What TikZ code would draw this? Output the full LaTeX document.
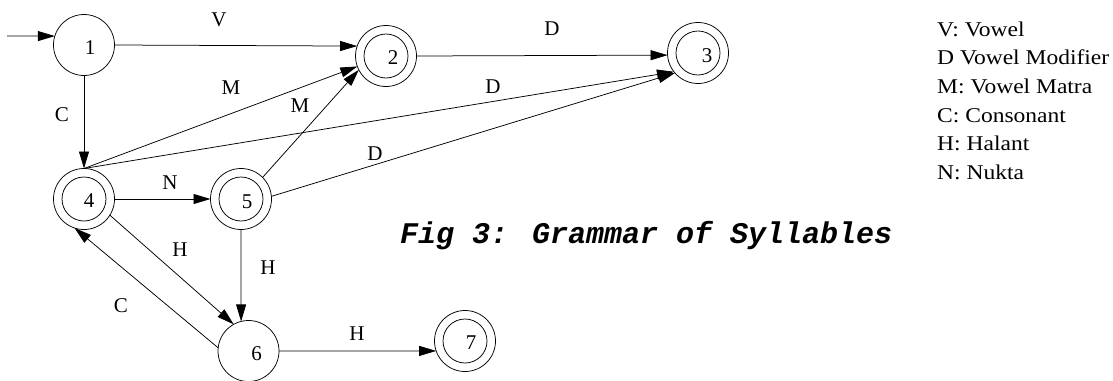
\documentclass[tikz,border=0pt]{standalone}
\usepackage{graphicx}
\usepackage{fontspec}
\setmainfont{Liberation Serif}
\newfontfamily\titlefont{Liberation Mono}
\usetikzlibrary{arrows.meta,calc}
\begin{document}
\begin{tikzpicture}[x=1pt,y=-1pt,
  st/.style={circle,draw,line width=0.75pt,minimum size=61pt,inner sep=0pt,outer sep=0pt},
  num/.style={inner sep=0pt,font=\fontsize{21}{25}\selectfont},
  lbl/.style={inner sep=0pt,font=\fontsize{21}{25}\selectfont},
  leg/.style={inner sep=0pt,anchor=base west,font=\fontsize{21}{25}\selectfont},
  edg/.style={line width=0.75pt,-{Triangle[length=17pt,width=10pt]}}]
\useasboundingbox (0,0) rectangle (1113,380);
% states
\node[st] (n1) at (84,45) {};
\node[st] (n2) at (386,56) {};
\node[st] (n3) at (698,53) {};
\node[st] (n4) at (84,199) {};
\node[st] (n5) at (241,199) {};
\node[st] (n6) at (248.5,351) {};
\node[st] (n7) at (465,341) {};
\foreach \n in {n2,n3,n4,n5,n7}{\draw[line width=0.75pt] (\n.center) circle[radius=22pt];}
\node[num] (t1) at ($(n1)+(6,3)$) {1};
\node[num] (t2) at ($(n2)+(7,2)$) {2};
\node[num] (t3) at ($(n3)+(9,3)$) {3};
\node[num] (t4) at ($(n4)+(5,2)$) {4};
\node[num] (t5) at ($(n5)+(6,3)$) {5};
\node[num] (t6) at ($(n6)+(8,3)$) {6};
\node[num] (t7) at ($(n7)+(6,2)$) {7};
% start
\coordinate (init) at (7,36);
\draw[edg] (init) -- (n1.163);
% edges
\draw[edg] (n1.east) -- (n2.161);
\draw[edg] (n2.east) -- (n3.184);
\draw[edg] (n1.south) -- (n4.north);
\draw[edg] (n4.north) -- (n2.200);
\draw[edg] (n4.north) -- (n3.218);
\draw[edg] (n5.45) -- (n2.207);
\draw[edg] (n5.5) -- (n3.221);
\draw[edg] (n4.east) -- (n5.west);
\draw[edg] (n4.328) -- (n6.119);
\draw[edg] (n5.south) -- (n6.104);
\draw[edg] (n6.174) -- (n4.252);
\draw[edg] (n6.east) -- (n7.199);
% edge labels
\node[lbl] (lV) at (219,20) {V};
\node[lbl] (lD1) at (552,29) {D};
\node[lbl] (lC1) at (62,115) {C};
\node[lbl] (lM1) at (231,88) {M};
\node[lbl] (lM2) at (300,106) {M};
\node[lbl] (lD2) at (493,87) {D};
\node[lbl] (lD3) at (375,154) {D};
\node[lbl] (lN) at (170,183) {N};
\node[lbl] (lH1) at (180,250) {H};
\node[lbl] (lH2) at (268,268) {H};
\node[lbl] (lC2) at (121,306) {C};
\node[lbl] (lH3) at (357,334) {H};
% legend
\node[leg] (g1) at (937,36) {\scalebox{1.12}[1]{V: Vowel}};
\node[leg] (g2) at (937,64.7) {\scalebox{1.12}[1]{D Vowel Modifier}};
\node[leg] (g3) at (937,93.4) {\scalebox{1.12}[1]{M: Vowel Matra}};
\node[leg] (g4) at (937,122) {\scalebox{1.12}[1]{C: Consonant}};
\node[leg] (g5) at (937,150.8) {\scalebox{1.12}[1]{H: Halant}};
\node[leg] (g6) at (937,179.5) {\scalebox{1.12}[1]{N: Nukta}};
% title
\node[inner sep=0pt,anchor=base west,font=\titlefont\bfseries\itshape\fontsize{30}{34}\selectfont] (title) at (400,243) {Fig 3: Grammar of Syllables};
\end{tikzpicture}
\end{document}
